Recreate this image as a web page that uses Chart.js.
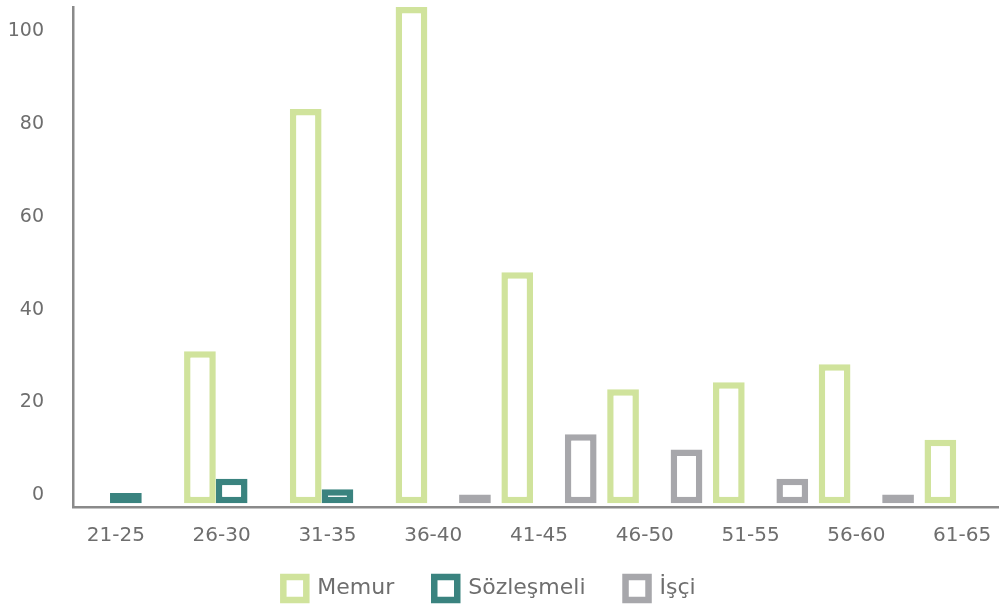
<!DOCTYPE html>
<html lang="tr">
<head>
<meta charset="utf-8">
<title>Yaş gruplarına göre personel</title>
<script src="https://cdn.jsdelivr.net/npm/chart.js@4.4.1/dist/chart.umd.min.js"></script>
<style>
    html, body { margin: 0; padding: 0; background: #fff; overflow: hidden; }
    /* a bit wider than the window: the last group is cut at the right edge */
    .chart-box { width: 1025px; height: 607px; position: relative; }
</style>
</head>
<body>
<div class="chart-box"><canvas id="ageChart"></canvas></div>
<script>
// Age groups and staff counts per type
const ageGroups = ['21-25', '26-30', '31-35', '36-40', '41-45', '46-50', '51-55', '56-60', '61-65'];
const memur = [null, 32.8, 85, 107, 49.8, 24.6, 26.1, 30, 13.7];
const sozlesmeli = [2.2, 5.3, 3, null, null, null, null, null, null];
const isci = [null, null, null, 1.9, 14.9, 11.6, 5.3, 1.9, null];
const yTicks = [0, 20, 40, 60, 80, 100];

const textColor = '#6e6e6e';
const axisColor = '#8a8a8a';
const family = '"DejaVu Sans", sans-serif';

const barStyle = {
    backgroundColor: '#ffffff',
    borderWidth: 6.5,
    borderSkipped: false,
    categoryPercentage: 0.9,
    barPercentage: 1
};

// nudge the legend: left under the visible part, up closer to the labels
const legendShift = {
    id: 'legendShift',
    afterLayout(chart) {
        const lg = chart.legend;
        if (lg) {
            lg.left -= 23;
            lg.right -= 23;
            lg.top -= 20;
            lg.bottom -= 20;
        }
    }
};

const ctx = document.getElementById('ageChart').getContext('2d');
new Chart(ctx, {
    type: 'bar',
    data: {
        labels: ageGroups,
        datasets: [
            { label: 'Memur', data: memur, borderColor: '#d0e39c', ...barStyle },
            { label: 'Sözleşmeli', data: sozlesmeli, borderColor: '#3a837f', ...barStyle },
            { label: 'İşçi', data: isci, borderColor: '#a7a7ab', ...barStyle }
        ]
    },
    options: {
        responsive: true,
        maintainAspectRatio: false,
        animation: false,
        layout: { padding: { top: 7, right: 0, bottom: -23, left: 0 } },
        plugins: {
            tooltip: { enabled: false },
            legend: {
                position: 'bottom',
                labels: {
                    boxWidth: 23,
                    boxHeight: 23,
                    padding: 40,
                    color: textColor,
                    font: { family: family, size: 22 }
                }
            }
        },
        scales: {
            x: {
                offset: true,
                grid: { display: false, drawTicks: false },
                border: { display: true, color: axisColor, width: 2.5 },
                afterFit: scale => {
                    scale.height = 50;
                },
                ticks: {
                    color: textColor,
                    font: { family: family, size: 20 },
                    padding: 17,
                    labelOffset: -10,
                    maxRotation: 0,
                    autoSkip: false
                }
            },
            y: {
                min: -0.8,
                max: 107,
                grid: { display: false, drawTicks: false },
                border: { display: true, color: axisColor, width: 2.5 },
                afterBuildTicks: scale => {
                    scale.ticks = yTicks.map(v => ({ value: v }));
                },
                afterFit: scale => {
                    scale.width = 73;
                    scale.paddingTop = 0;
                    scale.paddingBottom = 0;
                },
                ticks: {
                    color: textColor,
                    font: { family: family, size: 19 },
                    padding: 29,
                    labelOffset: -8
                }
            }
        }
    },
    plugins: [legendShift]
});
</script>
</body>
</html>
